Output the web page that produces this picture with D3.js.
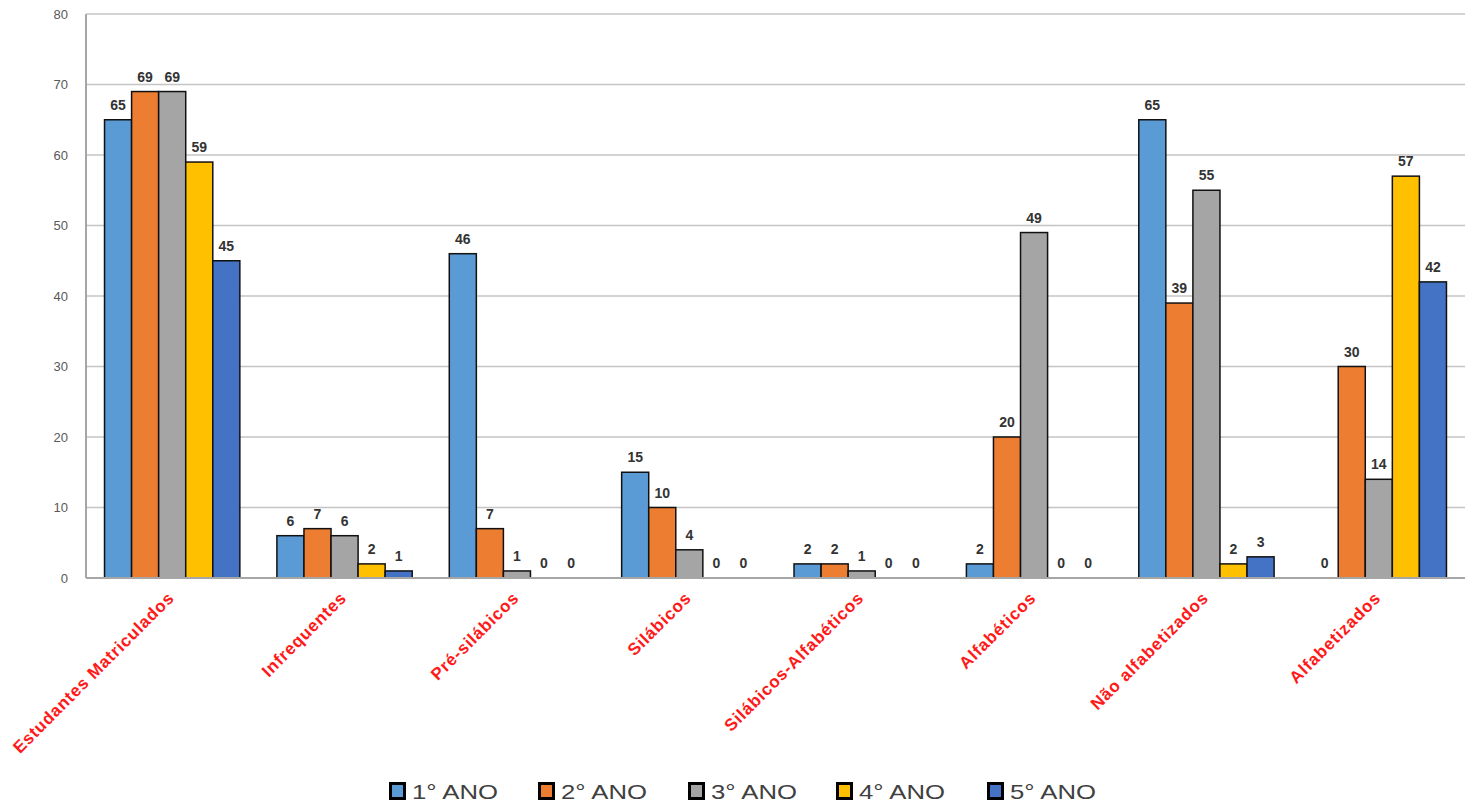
<!DOCTYPE html>
<html>
<head>
<meta charset="utf-8">
<script src="https://cdn.jsdelivr.net/npm/d3@7"></script>
<style>
  html, body { margin: 0; padding: 0; background: #fff; }
  svg { display: block; font-family: "Liberation Sans", Arial, sans-serif; }
</style>
</head>
<body>
<svg id="chart" width="1474" height="805"></svg>
<script>
// Categories along the x axis
const categories = [
  "Estudantes Matriculados", "Infrequentes", "Pré-silábicos", "Silábicos",
  "Silábicos-Alfabéticos", "Alfabéticos", "Não alfabetizados", "Alfabetizados"
];

// One series per school year
const seriesNames = ["1° ANO", "2° ANO", "3° ANO", "4° ANO", "5° ANO"];
const seriesColors = ["#5B9BD5", "#ED7D31", "#A5A5A5", "#FFC000", "#4472C4"];

const ano1 = [65, 6, 46, 15, 2, 2, 65, 0];
const ano2 = [69, 7, 7, 10, 2, 20, 39, 30];
const ano3 = [69, 6, 1, 4, 1, 49, 55, 14];
const ano4 = [59, 2, 0, 0, 0, 0, 2, 57];
const ano5 = [45, 1, 0, 0, 0, 0, 3, 42];
const seriesValues = [ano1, ano2, ano3, ano4, ano5];

const yTicks = [0, 10, 20, 30, 40, 50, 60, 70, 80];

const svg = d3.select("#chart");
const plotLeft = 86, plotRight = 1465, plotTop = 14, plotBottom = 578;

const y = d3.scaleLinear().domain([0, 80]).range([plotBottom, plotTop]);
const x0 = d3.scaleBand().domain(categories).range([plotLeft, plotRight]).padding(0);
const groupW = x0.bandwidth() * 0.785;
const x1 = d3.scaleBand().domain(seriesNames)
  .range([(x0.bandwidth() - groupW) / 2, (x0.bandwidth() + groupW) / 2]).padding(0);

// Horizontal gridlines
svg.append("g").selectAll("line").data(yTicks.filter(t => t > 0)).join("line")
  .attr("x1", plotLeft).attr("x2", plotRight)
  .attr("y1", d => y(d)).attr("y2", d => y(d))
  .attr("stroke", "#c4c4c4").attr("stroke-width", 1.5);

// Y axis with tick labels
const yAxis = d3.axisLeft(y).tickValues(yTicks).tickSize(0).tickPadding(18);
const gy = svg.append("g").attr("transform", `translate(${plotLeft},0)`).call(yAxis);
gy.select(".domain").remove();
gy.selectAll("text").attr("fill", "#595959").attr("font-size", 13)
  .attr("font-family", "'Liberation Sans', Arial, sans-serif");

svg.append("line").attr("x1", plotLeft).attr("x2", plotLeft).attr("y1", plotTop).attr("y2", plotBottom)
  .attr("stroke", "#a6a6a6").attr("stroke-width", 2);

// Bars
const groups = svg.append("g").selectAll("g").data(categories).join("g")
  .attr("transform", d => `translate(${x0(d)},0)`);

groups.each(function (cat, ci) {
  const g = d3.select(this);
  const vals = seriesNames.map((s, si) => ({ s, si, v: seriesValues[si][ci] }));
  g.selectAll("rect").data(vals.filter(d => d.v > 0)).join("rect")
    .attr("x", d => x1(d.s))
    .attr("y", d => y(d.v))
    .attr("width", x1.bandwidth())
    .attr("height", d => y(0) - y(d.v))
    .attr("fill", d => seriesColors[d.si])
    .attr("stroke", "#111").attr("stroke-width", 1.5);
  g.selectAll("text").data(vals).join("text")
    .attr("x", d => x1(d.s) + x1.bandwidth() / 2)
    .attr("y", d => y(d.v) - 10)
    .attr("text-anchor", "middle")
    .attr("font-size", 14).attr("font-weight", "bold")
    .attr("fill", "#333")
    .text(d => d.v);
});

// X axis baseline
svg.append("line").attr("x1", plotLeft).attr("x2", plotRight).attr("y1", plotBottom).attr("y2", plotBottom)
  .attr("stroke", "#a6a6a6").attr("stroke-width", 2);

// Rotated category labels
svg.append("g").selectAll("text").data(categories).join("text")
  .attr("transform", d => `translate(${x0(d) + x0.bandwidth() / 2 + 3},${plotBottom + 21}) rotate(-45)`)
  .attr("text-anchor", "end")
  .attr("font-size", 17).attr("font-weight", "bold")
  .attr("letter-spacing", 0.8)
  .attr("fill", "#ff1a1a")
  .text(d => d);

// Legend
const legendX = [389, 538, 688, 836, 987];
const legend = svg.append("g").selectAll("g").data(seriesNames).join("g")
  .attr("transform", (d, i) => `translate(${legendX[i]},782)`);
legend.append("rect").attr("x", 1.5).attr("y", 1.5).attr("width", 14).attr("height", 15)
  .attr("fill", (d, i) => seriesColors[i]).attr("stroke", "#000").attr("stroke-width", 3);
legend.append("text").attr("x", 23).attr("y", 17)
  .attr("font-size", 21).attr("fill", "#404040")
  .attr("textLength", 86).attr("lengthAdjust", "spacingAndGlyphs")
  .text(d => d);
</script>
</body>
</html>
